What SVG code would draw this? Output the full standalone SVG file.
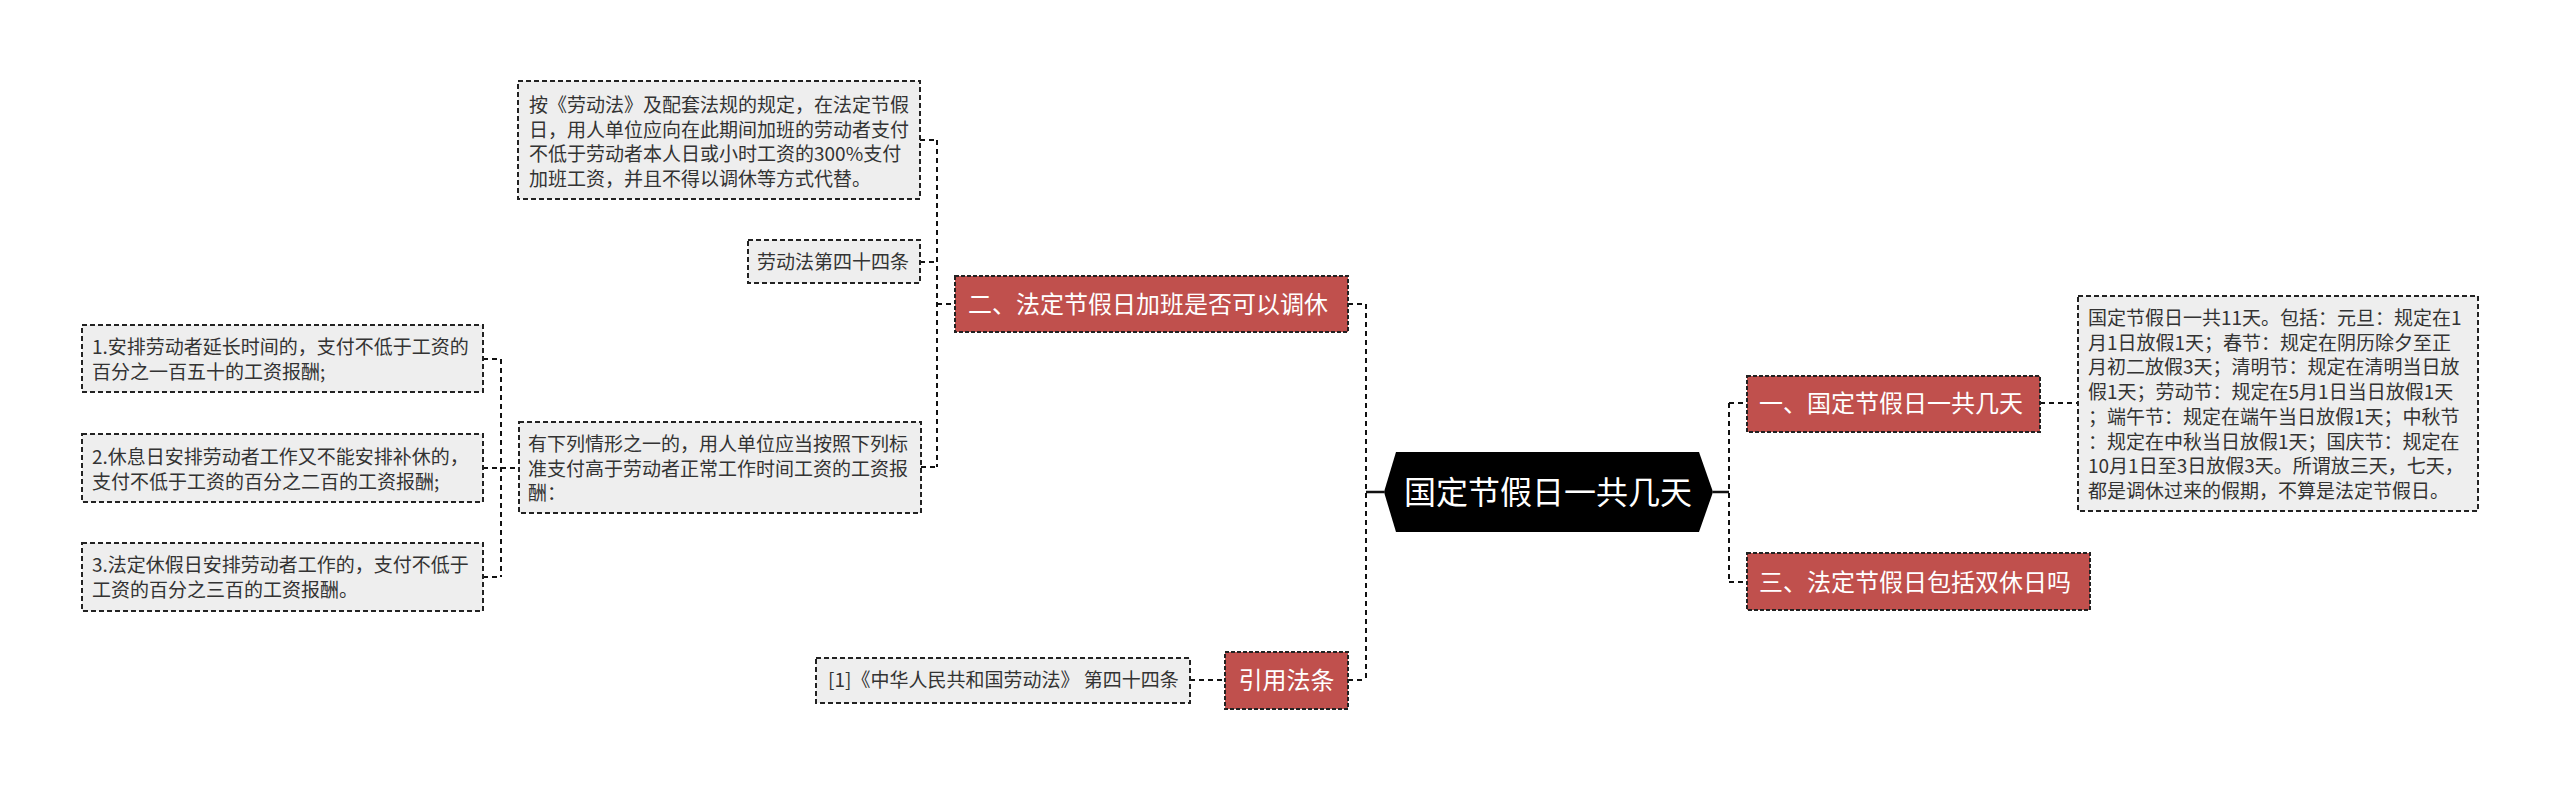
<svg xmlns="http://www.w3.org/2000/svg" width="2560" height="791" viewBox="0 0 2560 791">
<style>
text{font-family:"Noto Sans CJK SC","Microsoft YaHei",sans-serif;}
.g rect{fill:#eeeeee;stroke:#222;stroke-width:2;stroke-dasharray:5 3;}
.g text{fill:#333;font-size:19px;}
.r rect{fill:#c0504d;stroke:#222;stroke-width:2;stroke-dasharray:4 2;}
.r text{fill:#fff;font-size:24px;}
.c{fill:none;stroke:#111;stroke-width:2;stroke-dasharray:5 4;}
.s{fill:none;stroke:#111;stroke-width:2.5;}
</style>
<rect width="2560" height="791" fill="#fff"/>
<g id="connectors">
<path class="c" d="M501 359V577M483 359H501M483 468H519M483 577H501"/>
<path class="c" d="M937 140V467M920 140H937M920 262H937M937 304H955M921 467H937"/>
<path class="c" d="M1366 304V680M1348 304H1366M1348 680H1366M1190 680H1225"/>
<path class="s" d="M1366 492H1384M1713 492H1729"/>
<path class="c" d="M1729 403V582M1729 403H1747M1729 582H1747M2040 403H2078"/>
</g>
<g id="root">
<polygon points="1384,492 1396,452 1699,452 1713,492 1699,532 1396,532" fill="#000"/>
<text x="1548" y="504" font-size="32" fill="#fff" text-anchor="middle">国定节假日一共几天</text>
</g>
<g id="n1" class="r">
<rect x="1747" y="376" width="293" height="56"/>
<text x="1759" y="412">一、国定节假日一共几天</text>
</g>
<g id="n1a" class="g">
<rect x="2078" y="296" width="400" height="215"/>
<text x="2088" y="325">国定节假日一共11天。包括：元旦：规定在1</text>
<text x="2088" y="349.7">月1日放假1天；春节：规定在阴历除夕至正</text>
<text x="2088" y="374.4">月初二放假3天；清明节：规定在清明当日放</text>
<text x="2088" y="399.1">假1天；劳动节：规定在5月1日当日放假1天</text>
<text x="2088" y="423.8">；端午节：规定在端午当日放假1天；中秋节</text>
<text x="2088" y="448.5">：规定在中秋当日放假1天；国庆节：规定在</text>
<text x="2088" y="473.2">10月1日至3日放假3天。所谓放三天，七天，</text>
<text x="2088" y="497.9">都是调休过来的假期，不算是法定节假日。</text>
</g>
<g id="n3" class="r">
<rect x="1747" y="553" width="343" height="57"/>
<text x="1759" y="591">三、法定节假日包括双休日吗</text>
</g>
<g id="n2" class="r">
<rect x="955" y="276" width="393" height="56"/>
<text x="968" y="313">二、法定节假日加班是否可以调休</text>
</g>
<g id="n2a" class="g">
<rect x="518" y="81" width="402" height="118"/>
<text x="529" y="112">按《劳动法》及配套法规的规定，在法定节假</text>
<text x="529" y="136.5">日，用人单位应向在此期间加班的劳动者支付</text>
<text x="529" y="161">不低于劳动者本人日或小时工资的300%支付</text>
<text x="529" y="185.5">加班工资，并且不得以调休等方式代替。</text>
</g>
<g id="n2b" class="g">
<rect x="748" y="240" width="172" height="43"/>
<text x="757" y="269">劳动法第四十四条</text>
</g>
<g id="n2c" class="g">
<rect x="519" y="422" width="402" height="91"/>
<text x="528" y="451">有下列情形之一的，用人单位应当按照下列标</text>
<text x="528" y="475.5">准支付高于劳动者正常工作时间工资的工资报</text>
<text x="528" y="500">酬：</text>
</g>
<g id="n2c1" class="g">
<rect x="82" y="325" width="401" height="67"/>
<text x="92" y="354">1.安排劳动者延长时间的，支付不低于工资的</text>
<text x="92" y="379">百分之一百五十的工资报酬;</text>
</g>
<g id="n2c2" class="g">
<rect x="82" y="434" width="401" height="68"/>
<text x="92" y="464">2.休息日安排劳动者工作又不能安排补休的，</text>
<text x="92" y="489">支付不低于工资的百分之二百的工资报酬;</text>
</g>
<g id="n2c3" class="g">
<rect x="82" y="543" width="401" height="68"/>
<text x="92" y="572">3.法定休假日安排劳动者工作的，支付不低于</text>
<text x="92" y="597">工资的百分之三百的工资报酬。</text>
</g>
<g id="n4" class="r">
<rect x="1225" y="652" width="123" height="57"/>
<text x="1286.5" y="689" text-anchor="middle">引用法条</text>
</g>
<g id="n4a" class="g">
<rect x="816" y="658" width="374" height="45"/>
<text x="828" y="687">[1]《中华人民共和国劳动法》 第四十四条</text>
</g>
</svg>
